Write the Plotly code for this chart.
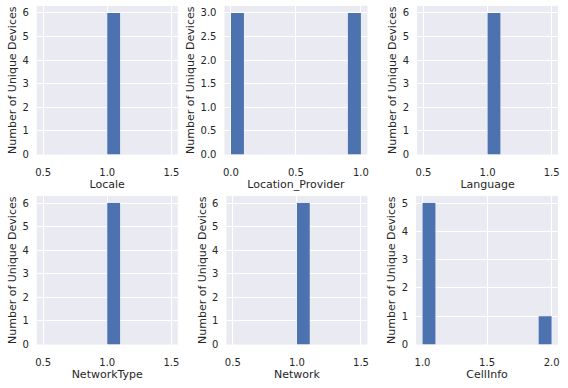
import numpy as np
import plotly.graph_objects as go

# Per-device values
locale = [1, 1, 1, 1, 1, 1]
location_provider = [0, 0, 0, 1, 1, 1]
language = [1, 1, 1, 1, 1, 1]
network_type = [1, 1, 1, 1, 1, 1]
network = [1, 1, 1, 1, 1, 1]
cell_info = [1, 1, 1, 1, 1, 2]

names = ["Locale", "Location_Provider", "Language", "NetworkType", "Network", "CellInfo"]
series = [locale, location_provider, language, network_type, network, cell_info]

W, H = 568, 388
# panel pixel boxes (left, right, top, bottom)
boxes = [
    (35, 177, 6, 157), (224, 368, 6, 157), (418, 560, 6, 157),
    (35, 177, 199, 350), (226, 368, 199, 350), (417, 560, 199, 350),
]

BG = "#EAEAF2"
BAR = "#4C72B0"
TXT = "#262626"
FONT = "DejaVu Sans"

fig = go.Figure()
layout = dict(
    width=W, height=H, margin=dict(l=0, r=0, t=0, b=0),
    paper_bgcolor="white", plot_bgcolor=BG, showlegend=False,
    font=dict(family=FONT, color=TXT, size=10),
)

for i, (name, vals) in enumerate(zip(names, series)):
    counts, edges = np.histogram(vals, bins=10)
    k = "" if i == 0 else str(i + 1)
    fig.add_trace(go.Bar(
        x=edges[:-1], y=counts, width=np.diff(edges), offset=0,
        marker=dict(color=BAR, line=dict(width=0)),
        xaxis="x" + k, yaxis="y" + k, hoverinfo="skip",
    ))
    l, r, t, b = boxes[i]
    span = edges[-1] - edges[0]
    ymax = counts.max()
    if ymax <= 3:
        dt, fmt = 0.5, ".1f"
    else:
        dt, fmt = 1, "d"
    layout["xaxis" + k] = dict(
        domain=[l / W, r / W], anchor="y" + k,
        range=[edges[0] - 0.05 * span, edges[-1] + 0.05 * span],
        tick0=0, dtick=0.5, tickformat=".1f",
        showgrid=True, gridcolor="white", gridwidth=1, zeroline=False,
        showline=False, ticks="outside", ticklen=8, tickcolor="rgba(0,0,0,0)",
        tickfont=dict(size=10, color=TXT, family=FONT),
        title=dict(text=name, font=dict(size=11, color=TXT, family=FONT), standoff=2),
    )
    layout["yaxis" + k] = dict(
        domain=[1 - b / H, 1 - t / H], anchor="x" + k,
        range=[0, ymax * 1.05], tick0=0, dtick=dt, tickformat=fmt,
        showgrid=True, gridcolor="white", gridwidth=1, zeroline=False,
        showline=False, ticks="outside", ticklen=5, tickcolor="rgba(0,0,0,0)",
        tickfont=dict(size=10, color=TXT, family=FONT),
        title=dict(text="Number of Unique Devices", font=dict(size=11, color=TXT, family=FONT), standoff=3),
    )

fig.update_layout(**layout)
fig.write_html(
    "out.html",
    config={"displayModeBar": False},
    post_script="document.body.style.margin='0';document.body.style.overflow='hidden';",
)
